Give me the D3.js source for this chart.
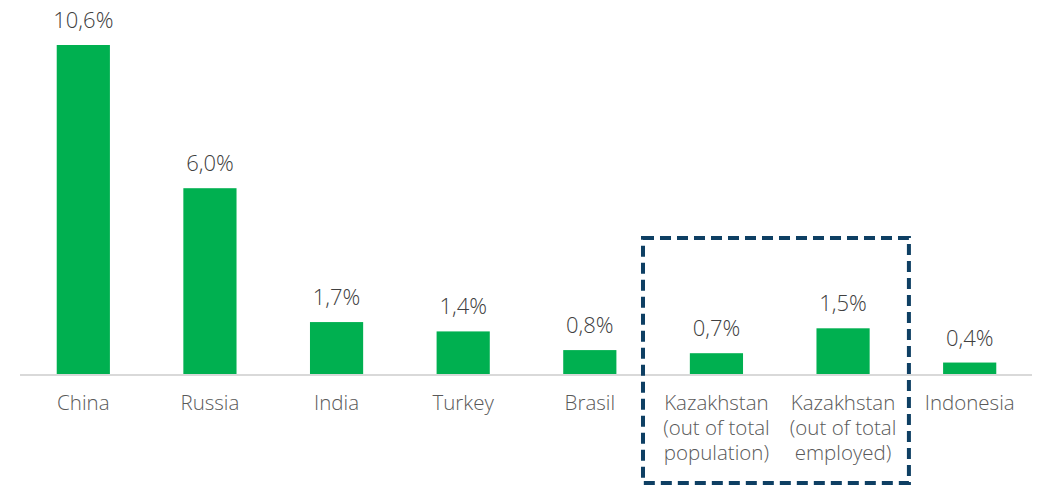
<!DOCTYPE html>
<html>
<head>
<meta charset="utf-8">
<script src="https://cdn.jsdelivr.net/npm/d3@7"></script>
<style>
  body { margin: 0; background: #fff; }
  svg text { font-family: "Open Sans", Lato, sans-serif; font-weight: 300; }
</style>
</head>
<body>
<svg id="chart" width="1043" height="486"></svg>
<script>
// Chart data
const categories = ['China', 'Russia', 'India', 'Turkey', 'Brasil', 'Kazakhstan (out of total population)', 'Kazakhstan (out of total employed)', 'Indonesia'];
const labelLines = [['China'], ['Russia'], ['India'], ['Turkey'], ['Brasil'],
    ['Kazakhstan', '(out of total', 'population)'], ['Kazakhstan', '(out of total', 'employed)'], ['Indonesia']];
const values = [10.6, 6.0, 1.7, 1.4, 0.8, 0.7, 1.5, 0.4];
const highlighted = [categories[5], categories[6]];

let svg = d3.select('#chart');
let baseY = 375;

// Scales
let x = d3.scaleBand()
    .domain(categories)
    .range([20, 1033])
    .paddingInner(0.58)
    .paddingOuter(0.29);

let y = d3.scaleLinear()
    .domain([0, 10.6])
    .range([baseY, 45]);

let fmt = v => d3.format('.1f')(v).replace('.', ',') + '%';

// Bars
svg.append('g').selectAll('rect')
    .data(values)
    .join('rect')
    .attr('x', (d, i) => x(categories[i]))
    .attr('y', d => y(d))
    .attr('width', x.bandwidth())
    .attr('height', d => baseY - y(d))
    .attr('fill', '#00b050');

// Value labels
svg.append('g').selectAll('text')
    .data(values)
    .join('text')
    .attr('x', (d, i) => x(categories[i]) + x.bandwidth() / 2)
    .attr('y', d => y(d) - 17)
    .attr('text-anchor', 'middle')
    .attr('font-size', '22px')
    .attr('fill', '#404040')
    .text(d => fmt(d));

// Axis line
svg.append('line')
    .attr('x1', 20).attr('x2', 1032)
    .attr('y1', baseY).attr('y2', baseY)
    .attr('stroke', '#d9d9d9')
    .attr('stroke-width', 2);

// Category labels
let labels = svg.append('g').selectAll('text')
    .data(categories)
    .join('text')
    .attr('x', d => x(d) + x.bandwidth() / 2)
    .attr('y', 410)
    .attr('text-anchor', 'middle')
    .attr('font-size', '20.5px')
    .attr('fill', '#595959');

labels.each(function(d, i) {
    d3.select(this).selectAll('tspan')
        .data(labelLines[i])
        .join('tspan')
        .attr('x', x(d) + x.bandwidth() / 2)
        .attr('dy', (t, j) => j === 0 ? 0 : 25)
        .text(t => t);
});

// Dashed highlight box around Kazakhstan bars
let step = x.step();
let boxLeft = x(highlighted[0]) - step * 0.37;
let boxRight = x(highlighted[1]) + x.bandwidth() + step * 0.31;
svg.append('rect')
    .attr('x', boxLeft)
    .attr('y', 238)
    .attr('width', boxRight - boxLeft)
    .attr('height', 245)
    .attr('fill', 'none')
    .attr('stroke', '#0e3f63')
    .attr('stroke-width', 4)
    .attr('stroke-dasharray', '11,6');
</script>
</body>
</html>
